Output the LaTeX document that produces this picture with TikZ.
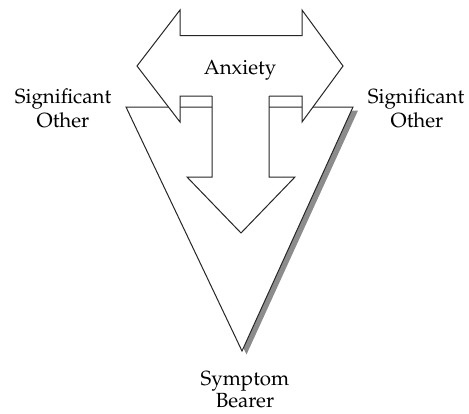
\documentclass[tikz,border=0pt]{standalone}
\usepackage[T1]{fontenc}
\usepackage{mathpazo}
\begin{document}
\begin{tikzpicture}[x=1pt,y=-1pt,
  shape line/.style={draw=black!85,line width=1pt,line join=miter},
  lbl/.style={font=\fontsize{20.5}{24}\selectfont,inner sep=0pt,anchor=base}]
\useasboundingbox (0,0) rectangle (469,413);
% triangle with shadow
\fill[black!45] (130.5,110.5) -- (358,110.5) -- (246.5,354.5) -- cycle;
\filldraw[fill=white,shape line] (126,107) -- (353,107) -- (242,351) -- cycle;
% double arrow
\filldraw[fill=white,shape line] (137,66) -- (180,10) -- (180,35.5) -- (302,35.5) -- (302,10)
  -- (343,66) -- (302,122) -- (302,96) -- (180,96) -- (180,122) -- cycle;
% down arrow
\fill[white] (212,95) -- (212,177) -- (187,177) -- (241,233) -- (295,177) -- (269,177) -- (269,95) -- cycle;
\draw[shape line] (212,96) -- (212,177) -- (187,177) -- (241,233) -- (295,177) -- (269,177) -- (269,96);
% labels
\node[lbl] (anx) at (240,74) {Anxiety};
\node[lbl] (so1a) at (63,103) {Significant};
\node[lbl] (so1b) at (63,127) {Other};
\node[lbl] (so2a) at (416,103) {Significant};
\node[lbl] (so2b) at (417,127) {Other};
\node[lbl] (sb1) at (245,385) {Symptom};
\node[lbl] (sb2) at (245,407) {Bearer};
\end{tikzpicture}
\end{document}
